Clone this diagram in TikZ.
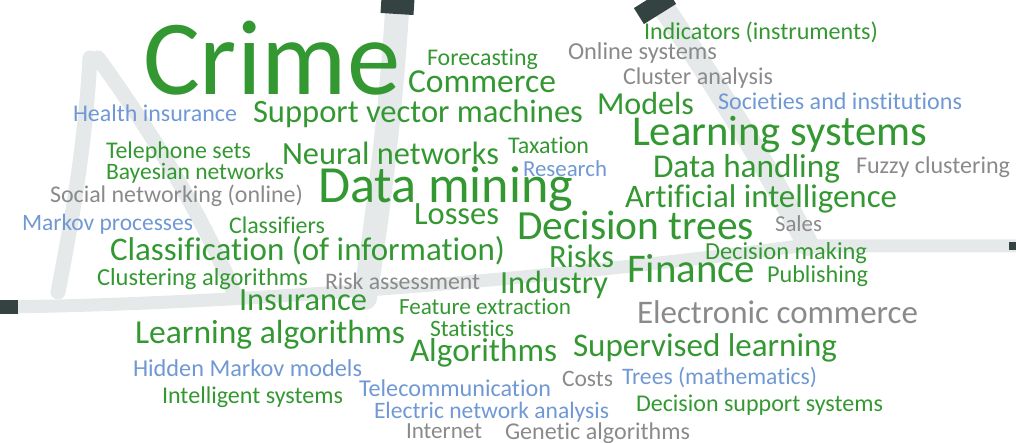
\documentclass[tikz,border=0pt]{standalone}
\usepackage{fontspec}
\setmainfont{Carlito}[Ligatures={NoCommon,NoRare,NoContextual}]
\usepackage{graphicx}
\definecolor{wgreen}{RGB}{52,152,50}
\definecolor{wblue}{RGB}{112,152,212}
\definecolor{wgray}{RGB}{138,138,138}
\definecolor{brushlight}{RGB}{229,233,233}
\definecolor{brushdark}{RGB}{52,66,66}
\tikzset{
  wordbox/.style={anchor=base west, inner sep=0pt, outer sep=0pt},
  brush/.style={draw=brushlight, line cap=round, line join=round},
  brushtip/.style={draw=brushdark, line cap=butt}
}
% name, x, y (baseline), width, colour, text
\newcommand\wrd[6]{\node[wordbox, text=#5] (#1) at (#2,#3) {\resizebox{#4pt}{!}{#6}};}
\begin{document}
\begin{tikzpicture}[x=1pt,y=-1pt]
\useasboundingbox (0,0) rectangle (1016,443);
% background brush strokes
\draw[brush, line width=24pt] (398,-5) .. controls (392,100) and (380,200) .. (365,298);
\draw[brushtip, line width=33pt] (398,-2) -- (397,14);
\draw[brush, line width=22pt] (655,-5) .. controls (700,60) and (770,170) .. (808,245);
\draw[brushtip, line width=38pt] (650,-2) -- (660,14);
\draw[brush, line width=13pt] (0,307) .. controls (200,305) and (500,285) .. (800,246) -- (1016,246);
\draw[brushtip, line width=14pt] (0,307) -- (18,307);
\draw[brushtip, line width=8pt] (1009,246) -- (1016,246);
\draw[brush, line width=15pt] (90,58) .. controls (85,150) and (70,230) .. (58,292);
\draw[brush, line width=15pt] (98,58) .. controls (150,130) and (200,210) .. (235,295);
% words
\begin{scope}[yshift=-3pt]
\wrd{crime}{143}{92}{257}{wgreen}{Crime}
\wrd{forecasting}{427}{63}{111}{wgreen}{Forecasting}
\wrd{commerce}{408}{90}{148}{wgreen}{Commerce}
\wrd{online}{568}{57}{149}{wgray}{Online systems}
\wrd{indicators}{644}{37}{234}{wgreen}{Indicators (instruments)}
\wrd{cluster}{623}{82}{150}{wgray}{Cluster analysis}
\wrd{health}{73}{119}{164}{wblue}{Health insurance}
\wrd{svm}{253}{120}{330}{wgreen}{Support vector machines}
\wrd{models}{597}{112}{97}{wgreen}{Models}
\wrd{societies}{718}{107}{244}{wblue}{Societies and institutions}
\wrd{learnsys}{632}{143}{295}{wgreen}{Learning systems}
\wrd{telephone}{106}{156}{145}{wgreen}{Telephone sets}
\wrd{bayesian}{106}{177}{178}{wgreen}{Bayesian networks}
\wrd{neural}{282}{162}{217}{wgreen}{Neural networks}
\wrd{taxation}{508}{151}{81}{wgreen}{Taxation}
\wrd{research}{523}{174}{84}{wblue}{Research}
\wrd{datahandling}{653}{175}{187}{wgreen}{Data handling}
\wrd{fuzzy}{856}{171}{154}{wgray}{Fuzzy clustering}
\wrd{social}{50}{200}{253}{wgray}{Social networking (online)}
\wrd{datamining}{318}{200}{255}{wgreen}{Data mining}
\wrd{ai}{625}{205}{272}{wgreen}{Artificial intelligence}
\wrd{markov}{22}{228}{171}{wblue}{Markov processes}
\wrd{classifiers}{229}{231}{96}{wgreen}{Classifiers}
\wrd{losses}{414}{222}{85}{wgreen}{Losses}
\wrd{dtrees}{517}{237}{237}{wgreen}{Decision trees}
\wrd{sales}{775}{229}{47}{wgray}{Sales}
\wrd{classification}{110}{258}{395}{wgreen}{Classification (of information)}
\wrd{risks}{549}{265}{65}{wgreen}{Risks}
\wrd{dmaking}{705}{257}{162}{wgreen}{Decision making}
\wrd{clustalg}{97}{283}{211}{wgreen}{Clustering algorithms}
\wrd{riskass}{325}{287}{155}{wgray}{Risk assessment}
\wrd{industry}{500}{290}{108}{wgreen}{Industry}
\wrd{finance}{627}{280}{128}{wgreen}{Finance}
\wrd{publishing}{767}{280}{101}{wgreen}{Publishing}
\wrd{insurance}{239}{308}{128}{wgreen}{Insurance}
\wrd{feature}{399}{311}{172}{wgreen}{Feature extraction}
\wrd{ecommerce}{637}{320}{281}{wgray}{Electronic commerce}
\wrd{learnalg}{135}{340}{270}{wgreen}{Learning algorithms}
\wrd{statistics}{430}{333}{84}{wgreen}{Statistics}
\wrd{algorithms}{410}{358}{147}{wgreen}{Algorithms}
\wrd{supervised}{573}{353}{264}{wgreen}{Supervised learning}
\wrd{hmm}{133}{373}{229}{wblue}{Hidden Markov models}
\wrd{costs}{562}{383}{51}{wgray}{Costs}
\wrd{treesmath}{622}{381}{195}{wblue}{Trees (mathematics)}
\wrd{telecom}{359}{393}{192}{wblue}{Telecommunication}
\wrd{intelligent}{162}{400}{181}{wgreen}{Intelligent systems}
\wrd{electric}{374}{415}{235}{wblue}{Electric network analysis}
\wrd{dss}{636}{408}{247}{wgreen}{Decision support systems}
\wrd{internet}{406}{435}{76}{wgray}{Internet}
\wrd{genetic}{505}{436}{185}{wgray}{Genetic algorithms}
\end{scope}
\end{tikzpicture}
\end{document}
